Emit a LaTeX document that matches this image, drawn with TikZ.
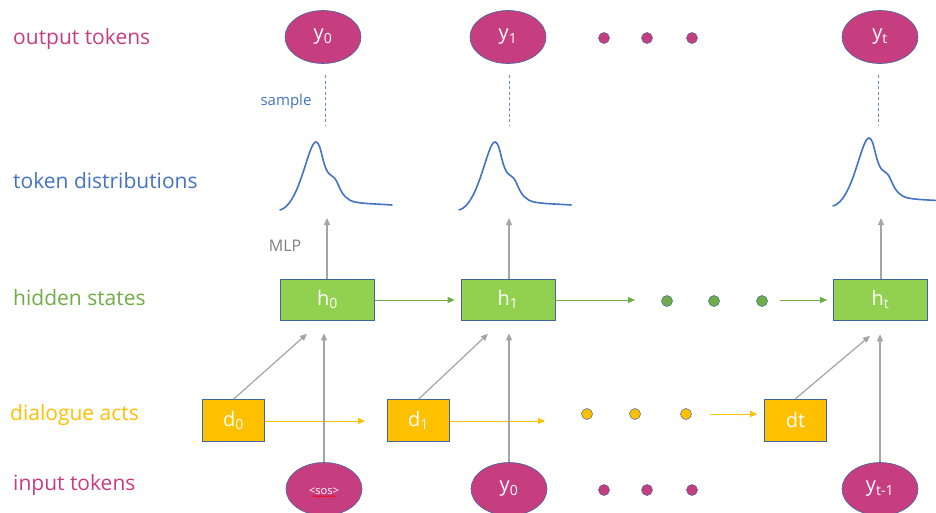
\documentclass[tikz,border=0pt]{standalone}
\usepackage{fontspec}
\setmainfont{Open Sans}
\usetikzlibrary{arrows.meta,calc,shapes.geometric,decorations.pathmorphing}
\definecolor{pinkc}{RGB}{199,62,128}
\definecolor{bluec}{RGB}{68,114,196}
\definecolor{greenc}{RGB}{112,173,71}
\definecolor{hgreen}{RGB}{146,208,80}
\definecolor{yellowc}{RGB}{255,192,0}
\definecolor{borderc}{RGB}{65,100,160}
\definecolor{greyc}{RGB}{165,165,165}
\definecolor{mlpc}{RGB}{127,127,127}
\begin{document}
\begin{tikzpicture}[x=1pt,y=-1pt,
  lab/.style={anchor=west,font=\fontsize{21}{24}\selectfont,inner sep=0},
  tok/.style={ellipse,draw=borderc,line width=0.6pt,fill=pinkc,minimum width=76pt,minimum height=53pt,inner sep=0,text=white,font=\fontsize{20}{23}\selectfont},
  hbox/.style={rectangle,draw=borderc,line width=0.6pt,fill=hgreen,minimum width=94pt,minimum height=41pt,inner sep=0,text=white,font=\fontsize{20}{23}\selectfont},
  dbox/.style={rectangle,draw=borderc,line width=0.6pt,fill=yellowc,minimum width=62pt,minimum height=42pt,inner sep=0,text=white,font=\fontsize{20}{23}\selectfont},
  dotp/.style={circle,draw=borderc,line width=0.5pt,fill=pinkc,minimum size=11pt,inner sep=0},
  dotg/.style={circle,draw=borderc,line width=0.5pt,fill=greenc,minimum size=11pt,inner sep=0},
  doty/.style={circle,draw=borderc,line width=0.5pt,fill=yellowc,minimum size=11pt,inner sep=0},
  garrow/.style={draw=greyc,line width=1.2pt,-{Triangle[length=7pt,width=6pt]}},
  grarrow/.style={draw=greenc,line width=0.9pt,-{Triangle[length=7pt,width=6pt]}},
  yarrow/.style={draw=yellowc,line width=0.9pt,-{Triangle[length=7pt,width=6pt]}},
  sampleline/.style={draw=bluec!80,line width=0.9pt,dash pattern=on 3pt off 2.5pt},
  distline/.style={draw=bluec,line width=1.6pt,line cap=round},
  dist/.pic={\draw[distline] (0,0) .. controls (20,-5) and (28,-68) .. (36,-68)
      .. controls (42,-68) and (42,-38) .. (52,-34)
      .. controls (60,-30) and (58,-12) .. (75,-8)
      .. controls (85,-6) and (100,-6) .. (112,-5);}
]
\clip (0,0) rectangle (936,512);
\fill[white] (0,0) rectangle (936,512);

% left labels
\node[lab,text=pinkc] (l1) at (13,39) {output tokens};
\node[lab,text=bluec] (l2) at (13,181) {token distributions};
\node[lab,text=greenc] (l3) at (13,298) {hidden states};
\node[lab,text=yellowc] (l4) at (10,415) {dialogue acts};
\node[lab,text=pinkc] (l5) at (13,485) {input tokens};

% output tokens
\node[tok] (o0) at (323,37) {y\textsubscript{0}};
\node[tok] (o1) at (508,37) {y\textsubscript{1}};
\node[tok] (ot) at (880,37) {y\textsubscript{t}};
\node[dotp] (od1) at (604,38) {};
\node[dotp] (od2) at (647,38) {};
\node[dotp] (od3) at (692,38) {};

% sample dashed lines
\coordinate (s0a) at (325,75); \coordinate (s0b) at (325,126);
\coordinate (s1a) at (509,75); \coordinate (s1b) at (509,126);
\coordinate (sta) at (878,75); \coordinate (stb) at (878,126);
\draw[sampleline] (s0a) -- (s0b);
\draw[sampleline] (s1a) -- (s1b);
\draw[sampleline] (sta) -- (stb);
\node[text=bluec,font=\fontsize{15}{17}\selectfont] (samp) at (286,102) {sample};

% distributions
\pic at (280,210) {dist};
\pic at (459,210) {dist};
\pic at (833,206) {dist};

% hidden states
\node[hbox] (h0) at (327.5,299.5) {h\textsubscript{0}};
\node[hbox] (h1) at (508,299.5) {h\textsubscript{1}};
\node[hbox] (ht) at (880.5,299.5) {h\textsubscript{t}};
\node[dotg] (gd1) at (667,301) {};
\node[dotg] (gd2) at (714,301) {};
\node[dotg] (gd3) at (762,301) {};
\coordinate (g1) at (635,300);
\coordinate (g2) at (780,300);
\draw[grarrow,shorten >=6pt] (h0.east |- 0,300) -- (h1.west |- 0,300);
\draw[grarrow] (h1.east |- 0,300) -- (g1);
\draw[grarrow,shorten >=6pt] (g2) -- (ht.west |- g2);

% MLP arrows
\coordinate (c0) at (327,218);
\coordinate (c1) at (509,218);
\coordinate (ct) at (881,218);
\draw[garrow] (h0.north -| c0) -- (c0);
\draw[garrow] (h1.north -| c1) -- (c1);
\draw[garrow] (ht.north -| ct) -- (ct);
\node[text=mlpc,font=\fontsize{16}{18}\selectfont] (mlp) at (285,246) {MLP};

% dialogue acts
\node[dbox] (d0) at (233.5,420.5) {d\textsubscript{0}};
\node[dbox] (d1) at (418.5,420.5) {d\textsubscript{1}};
\node[dbox] (dt) at (795.5,420) {dt};
\node[doty] (yd1) at (587,414) {};
\node[doty] (yd2) at (635,414) {};
\node[doty] (yd3) at (686,414) {};
\coordinate (ya0) at (365,421);
\coordinate (ya1) at (545,421);
\coordinate (ya2) at (710,414);
\draw[yarrow] (d0.east |- ya0) -- (ya0);
\draw[yarrow] (d1.east |- ya1) -- (ya1);
\draw[yarrow,shorten >=7pt] (ya2) -- (dt.west |- ya2);

% input tokens
\node[tok] (i0) at (324,489) {};
\node[text=white,font=\fontsize{11}{12}\selectfont] (sos) at (324,491) {<sos>};
\draw[red,line width=0.6pt,decorate,decoration={snake,amplitude=0.6pt,segment length=2.5pt}] ($(sos.base west)+(7,2)$) -- ($(sos.base east)+(-7,2)$);
\node[tok] (i1) at (509,489) {y\textsubscript{0}};
\node[tok] (it) at (880,489) {y\textsubscript{t-1}};
\node[dotp] (id1) at (604,490) {};
\node[dotp] (id2) at (647,490) {};
\node[dotp] (id3) at (692,490) {};

% grey arrows into hidden states
\draw[garrow] (d0.north) -- ($(h0.south)+(-20.5,13.5)$);
\draw[garrow] (d1.north) -- ($(h1.south)+(-20,13.5)$);
\draw[garrow] (dt.north) -- ($(ht.south)+(-10.5,15.5)$);
\draw[garrow] (i0.north) -- ([yshift=-13pt]i0.north |- h0.south);
\draw[garrow] (i1.north) -- ([yshift=-13pt]i1.north |- h1.south);
\draw[garrow] (it.north) -- ([yshift=-14pt]it.north |- ht.south);
\end{tikzpicture}
\end{document}
